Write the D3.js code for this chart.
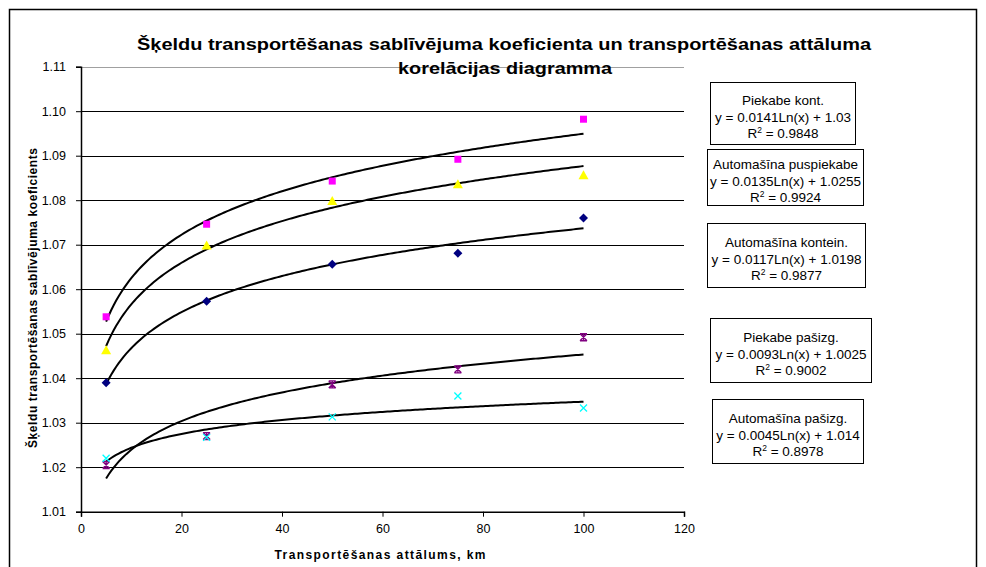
<!DOCTYPE html>
<html>
<head>
<meta charset="utf-8">
<script src="https://cdn.jsdelivr.net/npm/d3@7"></script>
<style>
  body { margin: 0; background: #fff; }
  svg { display: block; font-family: "Liberation Sans", Arial, sans-serif; }
</style>
</head>
<body>
<svg id="chart" width="986" height="567"></svg>
<script>
// ---- data ----
const distances = [5, 25, 50, 75, 100];
const seriesNames = ["Piekabe kont.", "Automašīna puspiekabe", "Automašīna kontein.", "Piekabe pašizg.", "Automašīna pašizg."];
const piekabeKont = [1.0538, 1.0746, 1.0843, 1.0892, 1.0982];
const autoPuspiekabe = [1.0463, 1.0698, 1.0798, 1.0836, 1.0856];
const autoKontein = [1.0390, 1.0573, 1.0656, 1.0681, 1.0760];
const piekabePasizg = [1.0205, 1.0270, 1.0386, 1.0420, 1.0492];
const autoPasizg = [1.0220, 1.0267, 1.0313, 1.0360, 1.0333];
const trendSlope = [0.0141, 0.0135, 0.0117, 0.0093, 0.0045];
const trendIntercept = [1.03, 1.0255, 1.0198, 1.0025, 1.014];
const rSquared = ["0.9848", "0.9924", "0.9877", "0.9002", "0.8978"];
const equations = ["y = 0.0141Ln(x) + 1.03", "y = 0.0135Ln(x) + 1.0255", "y = 0.0117Ln(x) + 1.0198", "y = 0.0093Ln(x) + 1.0025", "y = 0.0045Ln(x) + 1.014"];
const xTicks = [0, 20, 40, 60, 80, 100, 120];
const yTicks = [1.01, 1.02, 1.03, 1.04, 1.05, 1.06, 1.07, 1.08, 1.09, 1.10, 1.11];
const colors = ["#FF00FF", "#FFFF00", "#000080", "#800080", "#00FFFF"];
const markers = ["square", "triangle", "diamond", "star", "cross"];
const values = [piekabeKont, autoPuspiekabe, autoKontein, piekabePasizg, autoPasizg];

const svg = d3.select("#chart");
const x = d3.scaleLinear().domain([0, 120]).range([81, 684]);
const y = d3.scaleLinear().domain([1.01, 1.11]).range([511.7, 66.7]);

// outer frame
svg.append("rect").attr("x", 9.5).attr("y", 9.5).attr("width", 967).attr("height", 620)
  .attr("fill", "none").attr("stroke", "#000").attr("stroke-width", 1.5);

// gridlines
svg.append("g").selectAll("line").data(yTicks.slice(1)).join("line")
  .attr("x1", x(0)).attr("x2", x(120))
  .attr("y1", d => Math.round(y(d)) + 0.5).attr("y2", d => Math.round(y(d)) + 0.5)
  .attr("stroke", (d, i) => i === yTicks.length - 2 ? "#a0a0a0" : "#000").attr("stroke-width", 1);

// axes
const yAxis = d3.axisLeft(y).tickValues(yTicks).tickFormat(d3.format(".2f")).tickSizeOuter(0).tickSize(5).tickPadding(10);
const gy = svg.append("g").attr("transform", `translate(${x(0)},0)`).call(yAxis);
const xAxis = d3.axisBottom(x).tickValues(xTicks).tickFormat(d3.format("d")).tickSizeOuter(0).tickSize(5).tickPadding(7);
const gx = svg.append("g").attr("transform", `translate(0,${y(1.01)})`).call(xAxis);
[gx, gy].forEach(g => {
  g.selectAll("text").attr("font-size", 12.5).attr("fill", "#000").attr("font-family", "Liberation Sans, Arial, sans-serif");
  g.selectAll("line").attr("stroke", "#000");
  g.select(".domain").attr("stroke", "#000").attr("stroke-width", 1.5);
});

// trend lines
const xs = d3.range(5, 100.01, 0.5);
const line = d3.line().x(d => x(d[0])).y(d => y(d[1])).curve(d3.curveLinear);
trendSlope.forEach((a, i) => {
  svg.append("path").datum(xs.map(v => [v, a * Math.log(v) + trendIntercept[i]]))
    .attr("d", line).attr("fill", "none").attr("stroke", "#000").attr("stroke-width", 2);
});

// markers
function drawMarker(g, type, color) {
  if (type === "square") g.append("rect").attr("x", -3.5).attr("y", -3.5).attr("width", 7).attr("height", 7).attr("fill", color);
  else if (type === "triangle") g.append("path").attr("d", "M0,-5 L5,4 L-5,4 Z").attr("fill", color);
  else if (type === "diamond") g.append("path").attr("d", "M0,-4.5 L4.5,0 L0,4.5 L-4.5,0 Z").attr("fill", color);
  else if (type === "star") g.append("path").attr("d", "M-3.5,-3.5 L3.5,3.5 M3.5,-3.5 L-3.5,3.5 M-3.5,-3.5 L3.5,-3.5 M-3.5,3.5 L3.5,3.5 M0,-3.5 L0,3.5").attr("stroke", color).attr("stroke-width", 1.3).attr("fill", "none");
  else g.append("path").attr("d", "M-3.5,-3.5 L3.5,3.5 M3.5,-3.5 L-3.5,3.5").attr("stroke", color).attr("stroke-width", 1.3).attr("fill", "none");
}
values.forEach((vals, i) => {
  const g = svg.append("g");
  vals.forEach((v, j) => {
    const m = g.append("g").attr("transform", `translate(${x(distances[j])},${y(v)})`);
    drawMarker(m, markers[i], colors[i]);
  });
});

// title
svg.append("text").attr("x", 504).attr("y", 50).attr("text-anchor", "middle")
  .attr("font-size", 17).attr("font-weight", "bold").attr("textLength", 734).attr("lengthAdjust", "spacingAndGlyphs")
  .text("Šķeldu transportēšanas sablīvējuma koeficienta un transportēšanas attāluma");
svg.append("text").attr("x", 505).attr("y", 74).attr("text-anchor", "middle")
  .attr("font-size", 17).attr("font-weight", "bold").attr("textLength", 214).attr("lengthAdjust", "spacingAndGlyphs")
  .text("korelācijas diagramma");

// axis titles
svg.append("text").attr("x", 380).attr("y", 559).attr("text-anchor", "middle")
  .attr("font-size", 12).attr("font-weight", "bold").attr("textLength", 211).attr("lengthAdjust", "spacing")
  .text("Transportēšanas attālums, km");
svg.append("text").attr("transform", "translate(37,298) rotate(-90)").attr("text-anchor", "middle")
  .attr("font-size", 12).attr("font-weight", "bold").attr("textLength", 300).attr("lengthAdjust", "spacing")
  .text("Šķeldu transportēšanas sablīvējuma koeficients");

// equation boxes
const boxes = [
  {x: 710, y: 82, w: 145, h: 62},
  {x: 707, y: 149, w: 156, h: 56},
  {x: 707, y: 223, w: 158, h: 64},
  {x: 710, y: 318, w: 161, h: 64},
  {x: 712, y: 399, w: 151, h: 64}
];
boxes.forEach((b, i) => {
  const g = svg.append("g");
  g.append("rect").attr("x", b.x + 0.5).attr("y", b.y + 0.5).attr("width", b.w).attr("height", b.h)
    .attr("fill", "#fff").attr("stroke", "#000").attr("stroke-width", 1);
  const cx = b.x + b.w / 2 + 0.5;
  const top = b.y + (b.h - 51) / 2;
  g.append("text").attr("x", cx).attr("y", top + 17).attr("text-anchor", "middle").attr("font-size", 13.5).text(seriesNames[i]);
  g.append("text").attr("x", cx).attr("y", top + 34).attr("text-anchor", "middle").attr("font-size", 13.5).text(equations[i]);
  const t = g.append("text").attr("x", cx).attr("y", top + 50).attr("text-anchor", "middle").attr("font-size", 13.5);
  t.append("tspan").text("R");
  t.append("tspan").attr("font-size", 8.5).attr("dy", -5).text("2");
  t.append("tspan").attr("dy", 5).text(" = " + rSquared[i]);
});
</script>
</body>
</html>
